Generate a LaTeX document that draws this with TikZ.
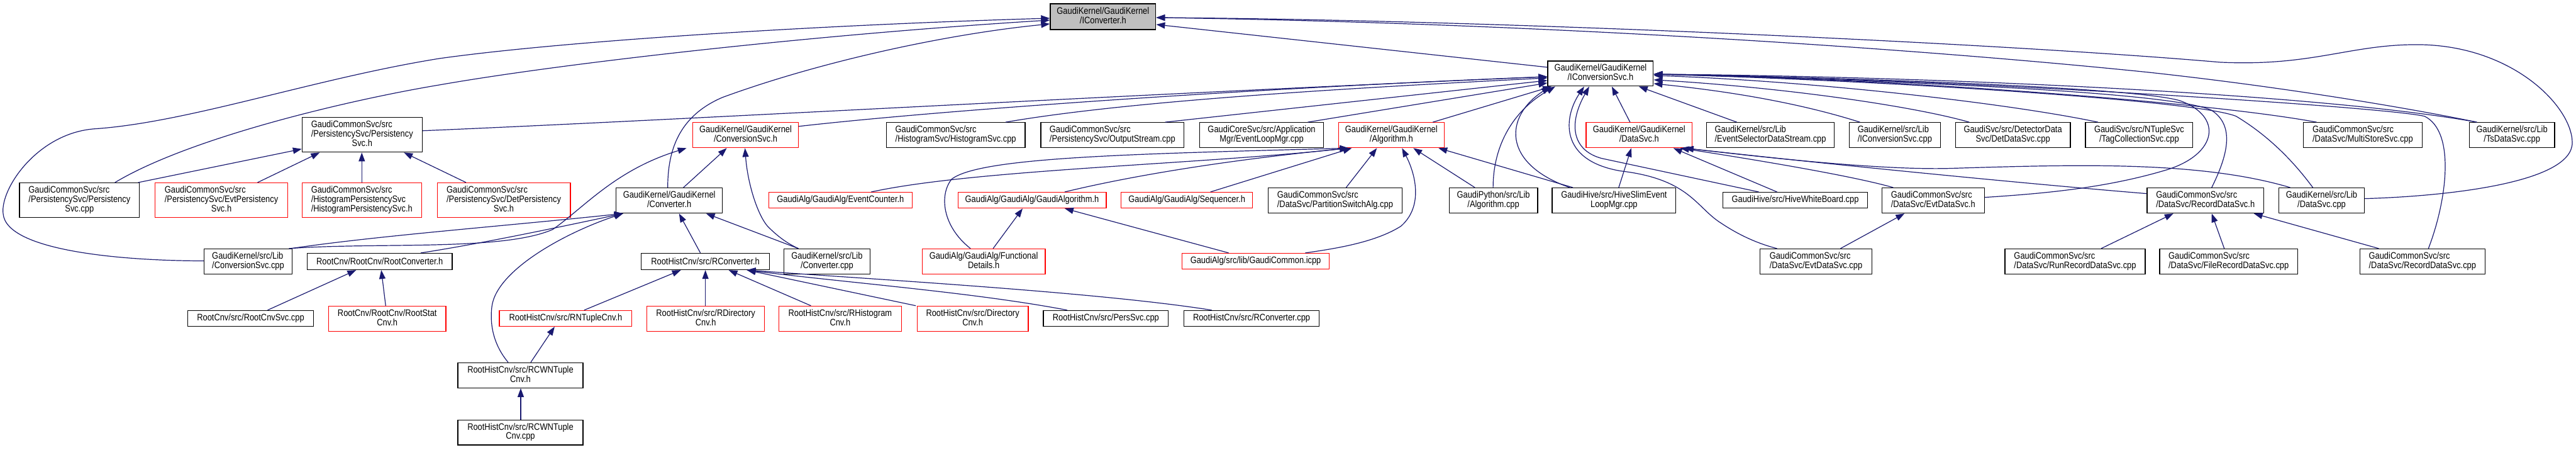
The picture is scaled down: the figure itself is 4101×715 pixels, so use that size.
\documentclass[tikz,border=0pt]{standalone}
\usepackage{fontspec}
\newfontfamily\nf[FakeStretch=0.86]{Liberation Sans}
\usetikzlibrary{arrows.meta}
\definecolor{edgeblue}{HTML}{191970}
\definecolor{boxgray}{HTML}{BFBFBF}
\newcommand{\twol}[2]{\begin{tabular}{@{}l@{}}#1\\\multicolumn{1}{@{}c@{}}{#2}\end{tabular}}
\newcommand{\mkbox}[7]{%
  \pgfmathsetmacro\bxw{#5-#3}\pgfmathsetmacro\bxh{#6-#4}%
  \pgfmathsetmacro\bxcx{(#3+#5)/2}\pgfmathsetmacro\bxcy{(#4+#6)/2}%
  \node[#2, minimum width=\bxw pt, minimum height=\bxh pt] (#1) at (\bxcx,\bxcy) {#7};}
\tikzset{
  box/.style={draw=black, line width=1.3pt, fill=white, inner sep=0pt, font={\nf\fontsize{15}{14}\selectfont}},
  rbox/.style={box, draw=red},
  gbox/.style={box, fill=boxgray},
  dep/.style={draw=edgeblue, line width=1.2pt, {Triangle[length=14pt,width=10pt]}-}
}
\begin{document}
\begin{tikzpicture}[x=1pt,y=-1pt]
\useasboundingbox (0,0) rectangle (4101,715);
% row 0
\mkbox{icv}{gbox}{1672}{6}{1840}{47}{\twol{GaudiKernel/GaudiKernel}{/IConverter.h}}
\mkbox{ics}{box}{2464}{97}{2632}{137}{\twol{GaudiKernel/GaudiKernel}{/IConversionSvc.h}}
% row 1
\mkbox{psh}{box}{481}{187}{672}{242}{\twol{GaudiCommonSvc/src\\/PersistencySvc/Persistency}{Svc.h}}
\mkbox{csh}{rbox}{1103}{195}{1271}{235}{\twol{GaudiKernel/GaudiKernel}{/ConversionSvc.h}}
\mkbox{hsc}{box}{1411}{195}{1632}{235}{\twol{GaudiCommonSvc/src}{/HistogramSvc/HistogramSvc.cpp}}
\mkbox{osc}{box}{1657}{195}{1885}{235}{\twol{GaudiCommonSvc/src}{/PersistencySvc/OutputStream.cpp}}
\mkbox{elm}{box}{1910}{195}{2107}{235}{\twol{GaudiCoreSvc/src/Application}{Mgr/EventLoopMgr.cpp}}
\mkbox{alh}{rbox}{2131}{195}{2299}{235}{\twol{GaudiKernel/GaudiKernel}{/Algorithm.h}}
\mkbox{dsh}{rbox}{2525}{195}{2694}{235}{\twol{GaudiKernel/GaudiKernel}{/DataSvc.h}}
\mkbox{esd}{box}{2717}{195}{2920}{235}{\twol{GaudiKernel/src/Lib}{/EventSelectorDataStream.cpp}}
\mkbox{icc}{box}{2944}{195}{3089}{235}{\twol{GaudiKernel/src/Lib}{/IConversionSvc.cpp}}
\mkbox{dds}{box}{3113}{195}{3296}{235}{\twol{GaudiSvc/src/DetectorData}{Svc/DetDataSvc.cpp}}
\mkbox{tcs}{box}{3320}{195}{3491}{235}{\twol{GaudiSvc/src/NTupleSvc}{/TagCollectionSvc.cpp}}
\mkbox{mss}{box}{3667}{195}{3856}{235}{\twol{GaudiCommonSvc/src}{/DataSvc/MultiStoreSvc.cpp}}
\mkbox{tds}{box}{3931}{195}{4067}{235}{\twol{GaudiKernel/src/Lib}{/TsDataSvc.cpp}}
% row 2
\mkbox{psc}{box}{31}{291}{222}{346}{\twol{GaudiCommonSvc/src\\/PersistencySvc/Persistency}{Svc.cpp}}
\mkbox{eps}{rbox}{247}{291}{458}{346}{\twol{GaudiCommonSvc/src\\/PersistencySvc/EvtPersistency}{Svc.h}}
\mkbox{hps}{rbox}{481}{291}{671}{346}{\twol{GaudiCommonSvc/src\\/HistogramPersistencySvc}{/HistogramPersistencySvc.h}}
\mkbox{dps}{rbox}{696}{291}{908}{346}{\twol{GaudiCommonSvc/src\\/PersistencySvc/DetPersistency}{Svc.h}}
\mkbox{cvh}{box}{981}{299}{1150}{339}{\twol{GaudiKernel/GaudiKernel}{/Converter.h}}
\mkbox{evc}{rbox}{1224}{306}{1452}{331}{GaudiAlg/GaudiAlg/EventCounter.h}
\mkbox{gah}{rbox}{1525}{306}{1761}{331}{GaudiAlg/GaudiAlg/GaudiAlgorithm.h}
\mkbox{seq}{rbox}{1785}{306}{1994}{331}{GaudiAlg/GaudiAlg/Sequencer.h}
\mkbox{psa}{box}{2019}{299}{2232}{339}{\twol{GaudiCommonSvc/src}{/DataSvc/PartitionSwitchAlg.cpp}}
\mkbox{pya}{box}{2307}{299}{2448}{339}{\twol{GaudiPython/src/Lib}{/Algorithm.cpp}}
\mkbox{hse}{box}{2471}{299}{2668}{339}{\twol{GaudiHive/src/HiveSlimEvent}{LoopMgr.cpp}}
\mkbox{hwb}{box}{2743}{306}{2973}{331}{GaudiHive/src/HiveWhiteBoard.cpp}
\mkbox{edh}{box}{2996}{299}{3159}{339}{\twol{GaudiCommonSvc/src}{/DataSvc/EvtDataSvc.h}}
\mkbox{rdh}{box}{3418}{299}{3604}{339}{\twol{GaudiCommonSvc/src}{/DataSvc/RecordDataSvc.h}}
\mkbox{dsc}{box}{3628}{299}{3764}{339}{\twol{GaudiKernel/src/Lib}{/DataSvc.cpp}}
% row 3
\mkbox{csc}{box}{325}{396}{465}{436}{\twol{GaudiKernel/src/Lib}{/ConversionSvc.cpp}}
\mkbox{rch}{box}{489}{403}{720}{429}{RootCnv/RootCnv/RootConverter.h}
\mkbox{rvh}{box}{1021}{403}{1225}{429}{RootHistCnv/src/RConverter.h}
\mkbox{cvc}{box}{1248}{396}{1385}{436}{\twol{GaudiKernel/src/Lib}{/Converter.cpp}}
\mkbox{fdh}{rbox}{1468}{396}{1664}{436}{\twol{GaudiAlg/GaudiAlg/Functional}{Details.h}}
\mkbox{gci}{rbox}{1882}{403}{2116}{428}{GaudiAlg/src/lib/GaudiCommon.icpp}
\mkbox{edc}{box}{2802}{396}{2980}{436}{\twol{GaudiCommonSvc/src}{/DataSvc/EvtDataSvc.cpp}}
\mkbox{rrd}{box}{3192}{396}{3415}{436}{\twol{GaudiCommonSvc/src}{/DataSvc/RunRecordDataSvc.cpp}}
\mkbox{frd}{box}{3438}{396}{3658}{436}{\twol{GaudiCommonSvc/src}{/DataSvc/FileRecordDataSvc.cpp}}
\mkbox{rdc}{box}{3757}{396}{3956}{436}{\twol{GaudiCommonSvc/src}{/DataSvc/RecordDataSvc.cpp}}
% row 4
\mkbox{rcs}{box}{299}{494}{499}{519}{RootCnv/src/RootCnvSvc.cpp}
\mkbox{rsc}{rbox}{523}{487}{710}{527}{\twol{RootCnv/RootCnv/RootStat}{Cnv.h}}
\mkbox{rnt}{rbox}{795}{494}{1006}{519}{RootHistCnv/src/RNTupleCnv.h}
\mkbox{rdi}{rbox}{1030}{487}{1217}{527}{\twol{RootHistCnv/src/RDirectory}{Cnv.h}}
\mkbox{rhi}{rbox}{1240}{487}{1435}{527}{\twol{RootHistCnv/src/RHistogram}{Cnv.h}}
\mkbox{dcv}{rbox}{1460}{487}{1637}{527}{\twol{RootHistCnv/src/Directory}{Cnv.h}}
\mkbox{pss}{box}{1661}{494}{1860}{519}{RootHistCnv/src/PersSvc.cpp}
\mkbox{rcv}{box}{1885}{494}{2100}{519}{RootHistCnv/src/RConverter.cpp}
% rows 5,6
\mkbox{cwh}{box}{729}{577}{928}{617}{\twol{RootHistCnv/src/RCWNTuple}{Cnv.h}}
\mkbox{cwc}{box}{729}{668}{928}{708}{\twol{RootHistCnv/src/RCWNTuple}{Cnv.cpp}}

% ---- edges into IConverter.h
\draw[dep] (icv.west|-0,29) .. controls (1300,40) and (900,65) .. (700,93) .. controls (500,125) and (300,195) .. (150,205) .. controls (60,212) and (0,300) .. (5,340) .. controls (10,400) and (200,415) .. (csc.west|-0,415);
\draw[dep] (icv.west|-0,32) .. controls (1300,55) and (900,100) .. (700,135) .. controls (550,160) and (300,220) .. (psc.north-|183,0);
\draw[dep] (icv.west|-0,38) .. controls (1500,55) and (1300,100) .. (1150,155) .. controls (1080,185) and (1063,240) .. (cvh.north-|1063,0);
\draw[dep] (icv.east|-0,28) .. controls (2400,32) and (3200,70) .. (3534,99) .. controls (3680,106) and (3740,71) .. (3847,71) .. controls (4000,71) and (4095,170) .. (4095,227) .. controls (4095,290) and (3900,312) .. (dsc.east|-0,316);
\draw[dep] (icv.east|-0,28) .. controls (2400,36) and (3000,72) .. (3420,115) .. controls (3650,140) and (3850,175) .. (tds.north-|3943,0);
\draw[dep] (icv.east|-0,39) -- (ics.west|-0,107);
% ---- edges into IConversionSvc.h
\draw[dep] (ics.west|-0,122) .. controls (1800,150) and (1100,190) .. (psh.east|-0,208);
\draw[dep] (ics.west|-0,122) .. controls (2000,140) and (1500,175) .. (csh.east|-0,201);
\draw[dep] (ics.west|-0,124) .. controls (2150,140) and (1800,160) .. (hsc.north-|1601,0);
\draw[dep] (ics.west|-0,128) -- (osc.north-|1855,0);
\draw[dep] (ics.west|-0,132) -- (elm.north-|2082,0);
\draw[dep] (ics.south-|2470,0) -- (alh.north-|2281,0);
\draw[dep] (ics.south-|2476,0) .. controls (2410,175) and (2377,230) .. (pya.north-|2377,0);
\draw[dep] (ics.south-|2468,0) .. controls (2395,185) and (2390,260) .. (hse.north-|2499,0);
\draw[dep] (ics.south-|2522,0) .. controls (2490,185) and (2480,255) .. (2580,272) .. controls (2690,285) and (2700,330) .. (2740,355) .. controls (2770,375) and (2800,388) .. (edc.north-|2829,0);
\draw[dep] (ics.south-|2530,0) .. controls (2495,200) and (2505,240) .. (2550,252) -- (hwb.north-|2800,0);
\draw[dep] (ics.south-|2566,0) -- (dsh.north-|2595,0);
\draw[dep] (ics.south-|2609,0) -- (esd.north-|2765,0);
\draw[dep] (ics.east|-0,133) .. controls (2800,150) and (2900,175) .. (icc.north-|2961,0);
\draw[dep] (ics.east|-0,127) .. controls (2850,140) and (3050,170) .. (dds.north-|3135,0);
\draw[dep] (ics.east|-0,120) .. controls (2900,130) and (3200,165) .. (tcs.north-|3340,0);
\draw[dep] (ics.east|-0,118) .. controls (3000,125) and (3500,160) .. (mss.north-|3688,0);
\draw[dep] (ics.east|-0,118) .. controls (3100,122) and (3700,150) .. (tds.north-|3943,0);
\draw[dep] (ics.east|-0,118) .. controls (3000,125) and (3400,140) .. (3470,160) .. controls (3540,185) and (3530,245) .. (3450,270) .. controls (3350,300) and (3250,308) .. (edh.east|-0,314);
\draw[dep] (ics.east|-0,118) .. controls (3000,128) and (3450,145) .. (3520,175) .. controls (3560,200) and (3545,250) .. (rdh.north-|3521,0);
\draw[dep] (ics.east|-0,118) .. controls (3000,128) and (3500,160) .. (3560,185) .. controls (3610,215) and (3650,255) .. (dsc.north-|3682,0);
\draw[dep] (ics.east|-0,118) .. controls (3100,125) and (3800,170) .. (3860,185) .. controls (3910,210) and (3895,320) .. (rdc.north-|3866,0);
% ---- DataSvc.h
\draw[dep] (dsh.south-|2597,0) -- (hse.north-|2577,0);
\draw[dep] (dsh.south-|2664,0) -- (hwb.north-|2829,0);
\draw[dep] (dsh.south-|2675,0) .. controls (2800,255) and (2950,280) .. (edh.north-|3014,0);
\draw[dep] (dsh.south-|2682,0) .. controls (2900,260) and (3200,290) .. (rdh.west|-0,308);
\draw[dep] (dsh.south-|2682,0) .. controls (2850,255) and (3000,270) .. (3100,268) .. controls (3300,262) and (3500,255) .. (dsc.north-|3646,0);
% ---- Algorithm.h
\draw[dep] (alh.south-|2147,0) .. controls (1900,262) and (1550,270) .. (evc.north-|1387,0);
\draw[dep] (alh.south-|2147,0) .. controls (1950,255) and (1800,280) .. (gah.north-|1695,0);
\draw[dep] (alh.south-|2147,0) .. controls (1800,245) and (1560,250) .. (1515,285) .. controls (1495,310) and (1500,360) .. (fdh.north-|1545,0);
\draw[dep] (alh.south-|2152,0) -- (seq.north-|1927,0);
\draw[dep] (alh.south-|2192,0) -- (psa.north-|2143,0);
\draw[dep] (alh.south-|2232,0) .. controls (2255,280) and (2265,330) .. (2230,360) .. controls (2190,385) and (2130,395) .. (gci.north-|2078,0);
\draw[dep] (alh.south-|2250,0) -- (pya.north-|2348,0);
\draw[dep] (alh.south-|2290,0) -- (hse.north-|2504,0);
% ---- GaudiAlgorithm.h
\draw[dep] (gah.south-|1628,0) -- (fdh.north-|1581,0);
\draw[dep] (gah.south-|1695,0) -- (gci.north-|1956,0);
% ---- PersistencySvc.h
\draw[dep] (psh.west|-0,237) -- (psc.north-|220,0);
\draw[dep] (psh.south-|509,0) -- (eps.north-|410,0);
\draw[dep] (psh.south-|576,0) -- (hps.north-|576,0);
\draw[dep] (psh.south-|643,0) -- (dps.north-|742,0);
% ---- ConversionSvc.h
\draw[dep] (csh.south-|1157,0) -- (cvh.north-|1088,0);
\draw[dep] (csh.south-|1093,0) .. controls (980,270) and (930,330) .. (880,365) .. controls (800,400) and (600,385) .. (csc.north-|460,0);
\draw[dep] (csh.south-|1186,0) .. controls (1190,290) and (1205,340) .. (1222,360) .. controls (1240,378) and (1255,388) .. (cvc.north-|1271,0);
% ---- Converter.h
\draw[dep] (cvh.south-|992,0) .. controls (800,360) and (600,375) .. (csc.north-|463,0);
\draw[dep] (cvh.south-|992,0) .. controls (850,370) and (750,390) .. (rch.north-|670,0);
\draw[dep] (cvh.south-|992,0) .. controls (900,370) and (790,430) .. (783,488) .. controls (778,530) and (795,560) .. (cwh.north-|809,0);
\draw[dep] (cvh.south-|1081,0) -- (rvh.north-|1115,0);
\draw[dep] (cvh.south-|1124,0) -- (cvc.north-|1271,0);
% ---- RConverter.h
\draw[dep] (rvh.south-|1084,0) -- (rnt.north-|930,0);
\draw[dep] (rvh.south-|1123,0) -- (rdi.north-|1123,0);
\draw[dep] (rvh.south-|1160,0) -- (rhi.north-|1291,0);
\draw[dep] (rvh.south-|1189,0) -- (dcv.north-|1458,0);
\draw[dep] (rvh.south-|1189,0) .. controls (1350,450) and (1550,465) .. (pss.north-|1699,0);
\draw[dep] (rvh.south-|1189,0) .. controls (1400,445) and (1750,465) .. (rcv.north-|1929,0);
% ---- others
\draw[dep] (rch.south-|567,0) -- (rcs.north-|426,0);
\draw[dep] (rch.south-|607,0) -- (rsc.north-|614,0);
\draw[dep] (rnt.south-|883,0) -- (cwh.north-|845,0);
\draw[dep] (cwh.south-|829,0) -- (cwc.north-|829,0);
\draw[dep] (edh.south-|3032,0) -- (edc.north-|2930,0);
\draw[dep] (rdh.south-|3460,0) -- (rrd.north-|3345,0);
\draw[dep] (rdh.south-|3521,0) -- (frd.north-|3541,0);
\draw[dep] (rdh.south-|3588,0) -- (rdc.north-|3787,0);
\end{tikzpicture}
\end{document}
